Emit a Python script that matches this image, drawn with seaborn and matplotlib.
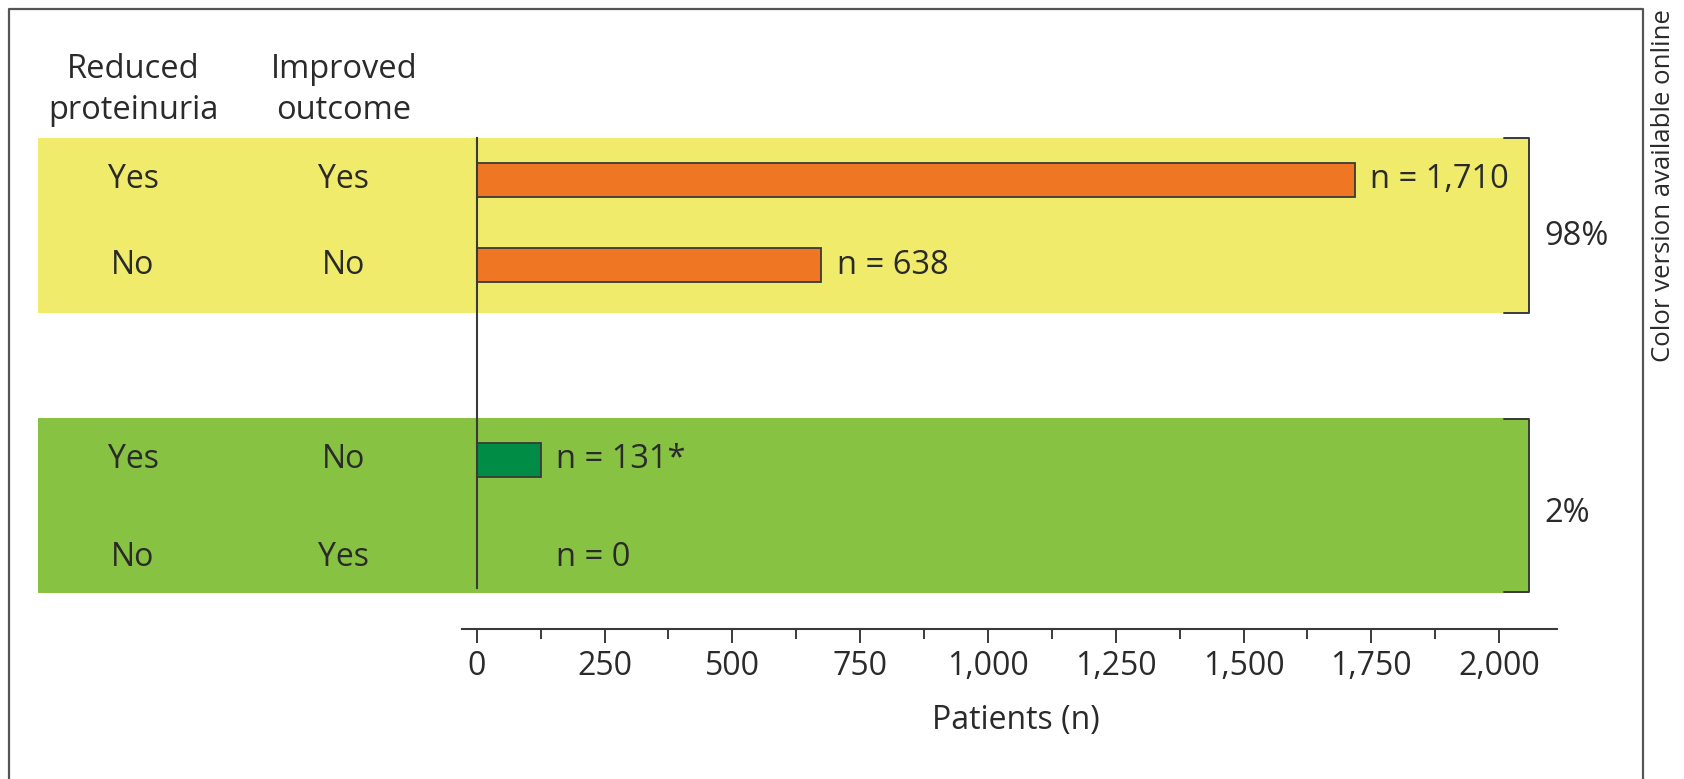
import matplotlib
matplotlib.use("Agg")
import matplotlib.pyplot as plt
from matplotlib.patches import Rectangle
from matplotlib.lines import Line2D
import matplotlib.transforms as mtransforms
import numpy as np
import pandas as pd
import seaborn as sns

# ---------------- data ----------------
reduced_proteinuria = ["Yes", "No", "Yes", "No"]
improved_outcome = ["Yes", "No", "No", "Yes"]
bar_lengths = [1718, 674, 126, 0]          # bar lengths as drawn
count_labels = ["n = 1,710", "n = 638", "n = 131*", "n = 0"]
row_kind = ["concordant_a", "concordant_b", "discordant_a", "discordant_b"]
group_share = ["98%", "2%"]
tick_values = [0, 250, 500, 750, 1000, 1250, 1500, 1750, 2000]
tick_labels = ["0", "250", "500", "750", "1,000", "1,250", "1,500", "1,750", "2,000"]
minor_ticks = [125, 375, 625, 875, 1125, 1375, 1625, 1875]
col_headers = ["Reduced\nproteinuria", "Improved\noutcome"]

# ---------------- style ----------------
sns.set_style("white")
plt.rcParams["font.family"] = ["Open Sans", "DejaVu Sans"]
TXT = "#2a2a2a"
LINE = "#3a3a3a"
YELLOW = "#F0EB6A"
GREEN_BAND = "#87C242"
ORANGE = "#EF7723"
DARK_GREEN = "#008C44"
FS = 23

W, H = 1684, 779
fig = plt.figure(figsize=(W / 100, H / 100), dpi=100)

# layout in pixel units
PX0 = 476.7          # pixel x of value 0
PPU = 0.5112         # pixels per unit
ax_left_px, ax_right_px = 37.7, 1600
ax_top_px, ax_bot_px = 137.7, 629

def px2v(px):
    return (px - PX0) / PPU

ax = fig.add_axes([ax_left_px / W, 1 - ax_bot_px / H,
                   (ax_right_px - ax_left_px) / W, (ax_bot_px - ax_top_px) / H])

row_y = [180, 265, 460, 557]
df = pd.DataFrame({"n": bar_lengths, "row": row_y, "kind": row_kind})
palette = {"concordant_a": ORANGE, "concordant_b": ORANGE,
           "discordant_a": DARK_GREEN, "discordant_b": DARK_GREEN}

sns.barplot(data=df, x="n", y="row", hue="kind", palette=palette, orient="h",
            native_scale=True, width=0.39, dodge=False, legend=False,
            saturation=1, errorbar=None, edgecolor=LINE, linewidth=1.3,
            ax=ax, zorder=3)

xl, xr = px2v(ax_left_px), px2v(ax_right_px)
ax.set_xlim(xl, xr)
ax.set_ylim(ax_bot_px, ax_top_px)

# background bands
band_right = px2v(1529.3)
bands = [(137.7, 313.3, YELLOW), (418.3, 592.7, GREEN_BAND)]
share_y = [236.7, 513.3]
for (y0, y1, c) in bands:
    ax.add_patch(Rectangle((xl, y0), band_right - xl, y1 - y0, facecolor=c,
                           edgecolor="none", zorder=0))

# brackets and group shares
br_x0 = px2v(1504)
for (y0, y1, c), share, sy in zip(bands, group_share, share_y):
    ax.plot([br_x0, band_right, band_right, br_x0], [y0 + 0.6, y0 + 0.6, y1 - 0.6, y1 - 0.6],
            color=LINE, lw=1.4, clip_on=False, zorder=4)
    ax.text(px2v(1544), sy, share, ha="left", va="center",
            fontsize=FS + 0.5, color=TXT)

# count labels
for i, (v, y, lab) in enumerate(zip(bar_lengths, row_y, count_labels)):
    anchor = v if v > 0 else bar_lengths[i - 1]
    ax.annotate(lab, (anchor, y), xytext=(11, 0), textcoords="offset points",
                ha="left", va="center", fontsize=FS + 0.5, color=TXT, zorder=5)

# row labels (columns)
col_x = [px2v(133), px2v(344)]
for y, r, o in zip(row_y, reduced_proteinuria, improved_outcome):
    ax.text(col_x[0], y, r, ha="center", va="center", fontsize=FS, color=TXT)
    ax.text(col_x[1], y, o, ha="center", va="center", fontsize=FS, color=TXT)
for cx, h in zip(col_x, col_headers):
    ax.text(cx, 90, h, ha="center", va="center", fontsize=FS + 0.5, color=TXT,
            linespacing=1.33, clip_on=False)

# axes
for s in ["top", "right"]:
    ax.spines[s].set_visible(False)
ax.spines["left"].set_position(("data", 0))
ax.spines["left"].set_bounds(588, ax_top_px)
ax.spines["bottom"].set_bounds(px2v(462), px2v(1557))
for s in ["left", "bottom"]:
    ax.spines[s].set_color(LINE)
    ax.spines[s].set_linewidth(1.5)
    ax.spines[s].set_zorder(6)

ax.set_yticks([])
ax.set_ylabel("")
ax.set_xticks(tick_values)
ax.set_xticklabels(tick_labels)
ax.set_xticks(minor_ticks, minor=True)
ax.tick_params(axis="x", which="major", direction="out", length=10, width=1.4,
               color=LINE, labelsize=FS, labelcolor=TXT, pad=5, bottom=True)
ax.tick_params(axis="x", which="minor", direction="out", length=7, width=1.4,
               color=LINE, bottom=True)
ax.set_xlabel("Patients (n)", fontsize=FS, color=TXT)
ax.xaxis.set_label_coords(px2v(1016), 1 - (721 - ax_top_px) / (ax_bot_px - ax_top_px),
                          transform=mtransforms.blended_transform_factory(ax.transData, ax.transAxes))
ax.xaxis.label.set_verticalalignment("center")

# outer frame (open at bottom)
fx0, fx1, fy0 = 8.5, 1642.7, 9.3
fig.add_artist(Line2D([fx0 / W, fx0 / W, fx1 / W, fx1 / W],
                      [0, 1 - fy0 / H, 1 - fy0 / H, 0],
                      color="#555555", lw=1.6, transform=fig.transFigure))
fig.text(1664 / W, 1 - 186 / H, "Color version available online", rotation=90,
         ha="center", va="center", fontsize=18.5, color=TXT)

fig.savefig("out.png", dpi=100)
